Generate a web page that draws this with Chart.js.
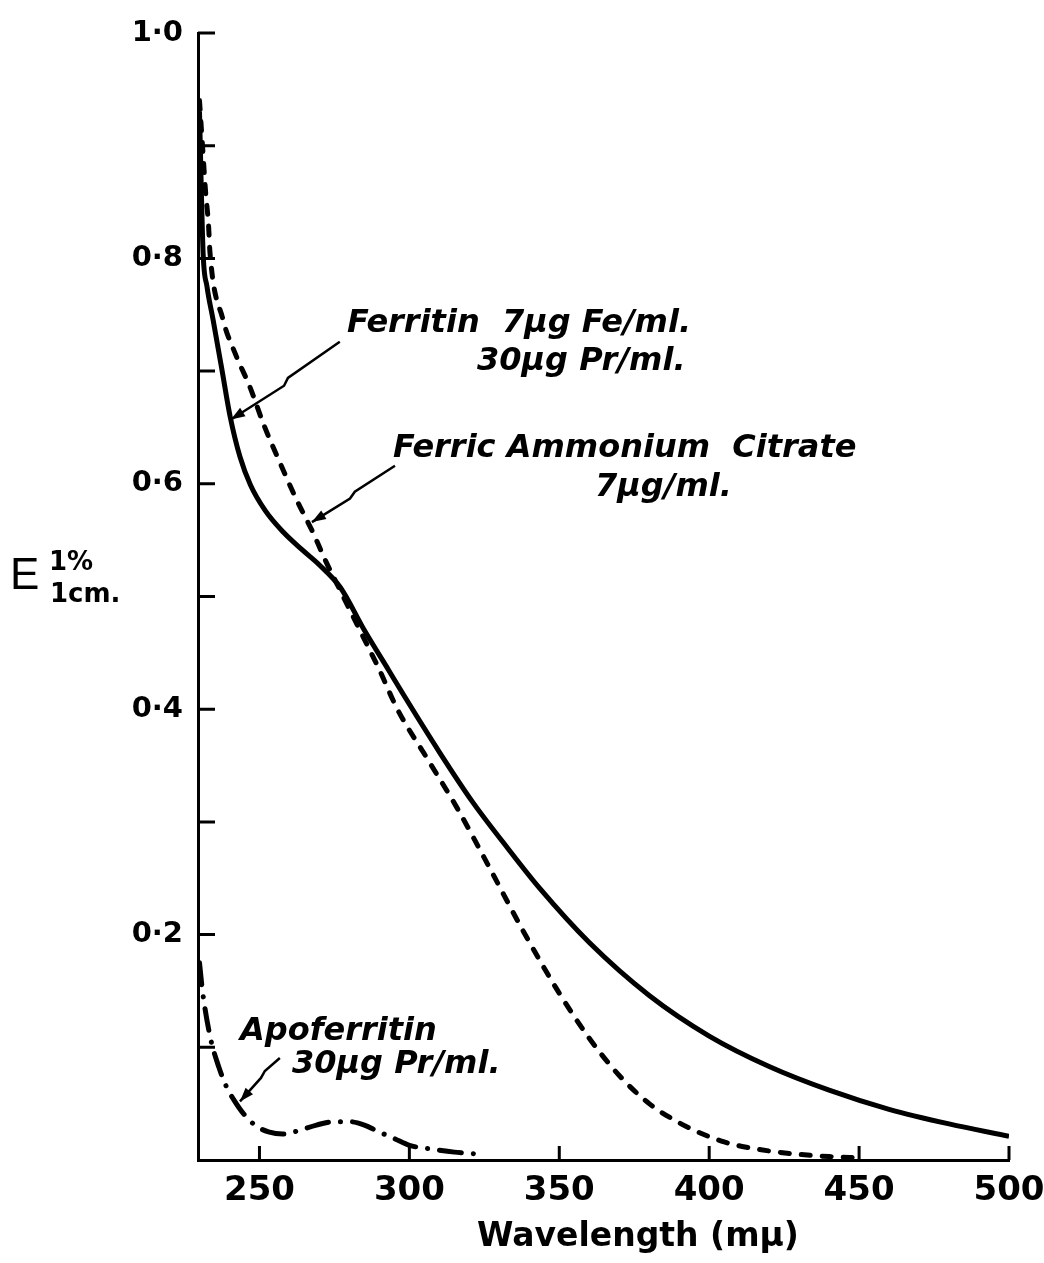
<!DOCTYPE html>
<html>
<head>
<meta charset="utf-8">
<script src="https://cdn.jsdelivr.net/npm/chart.js@4.4.1/dist/chart.umd.min.js"></script>
<style>
  html, body { margin: 0; padding: 0; background: #fff; }
</style>
</head>
<body>
<canvas id="spectrumGraph" width="1044" height="1263"></canvas>
<script>
const ferritinNm = [230, 231.2, 232.5, 234.5, 237.5, 240.2, 243.5, 247, 252, 258, 264, 270, 277, 285, 293, 298, 310, 321, 333, 343.5, 360, 380, 400, 420, 440, 460, 480, 500];
const ferritinE = [0.93, 0.805, 0.775, 0.746, 0.701, 0.660, 0.624, 0.599, 0.576, 0.557, 0.542, 0.528, 0.508, 0.470, 0.435, 0.413, 0.362, 0.318, 0.276, 0.241, 0.193, 0.146, 0.110, 0.083, 0.062, 0.045, 0.032, 0.021];

const citrateNm = [230, 231, 232, 233, 233.5, 237.8, 242, 246.8, 251.5, 256.8, 262, 267.8, 272, 277, 285, 290, 296, 306, 316, 327, 338, 350, 360, 370, 380, 390, 397, 405, 411, 420, 430, 440, 450];
const citrateE = [0.94, 0.90, 0.86, 0.83, 0.805, 0.746, 0.715, 0.686, 0.652, 0.619, 0.588, 0.557, 0.532, 0.505, 0.462, 0.435, 0.400, 0.356, 0.312, 0.258, 0.203, 0.148, 0.108, 0.075, 0.050, 0.033, 0.024, 0.016, 0.012, 0.008, 0.005, 0.003, 0.002];

const apoNm = [230, 231, 233.5, 236.5, 239, 241.3, 245, 249, 253, 257.8, 263, 269, 275, 280, 285, 289, 295, 300, 306.8, 315, 324.5];
const apoE = [0.175, 0.15, 0.11, 0.082, 0.065, 0.054, 0.040, 0.030, 0.025, 0.023, 0.026, 0.031, 0.034, 0.034, 0.031, 0.026, 0.019, 0.013, 0.010, 0.007, 0.005];

const wavelengthTicks = [250, 300, 350, 400, 450, 500];
const extinctionTicks = [0.1, 0.2, 0.3, 0.4, 0.5, 0.6, 0.7, 0.8, 0.9, 1.0];
const labelledTicks = [0.2, 0.4, 0.6, 0.8, 1.0];

const toPoints = (xs, ys) => xs.map((x, i) => ({ x: x, y: ys[i] }));

// leader lines, in (wavelength, E) pairs, last point gets the arrow head
const leaders = [
  [[276.8, 0.726], [259.5, 0.694], [258.2, 0.687], [240.5, 0.657]],
  [[295.2, 0.616], [281.8, 0.593], [280.2, 0.587], [267.5, 0.566]],
  [[256.8, 0.0905], [251.8, 0.079], [250.5, 0.0728], [243.5, 0.052]]
];

const notes = [
  { text: 'Ferritin  7µg Fe/ml.', x: 347, y: 332 },
  { text: '30µg Pr/ml.', x: 477, y: 370 },
  { text: 'Ferric Ammonium  Citrate', x: 393, y: 457 },
  { text: '7µg/ml.', x: 595, y: 496 },
  { text: 'Apoferritin', x: 240, y: 1040 },
  { text: '30µg Pr/ml.', x: 292, y: 1073 }
];

const inwardTicks = {
  id: 'inwardTicks',
  afterDatasetsDraw(chart) {
    const { ctx, scales: { x, y } } = chart;
    ctx.save();
    ctx.strokeStyle = '#000';
    ctx.lineWidth = 3;
    ctx.beginPath();
    extinctionTicks.forEach(v => {
      const py = y.getPixelForValue(v);
      ctx.moveTo(x.left, py);
      ctx.lineTo(x.left + 17, py);
    });
    wavelengthTicks.forEach(v => {
      const px = x.getPixelForValue(v);
      ctx.moveTo(px, y.bottom);
      ctx.lineTo(px, y.bottom - 14);
    });
    ctx.stroke();
    ctx.restore();
  }
};

const annotations = {
  id: 'annotations',
  afterDraw(chart) {
    const { ctx, scales: { x, y } } = chart;
    ctx.save();
    ctx.fillStyle = '#000';
    ctx.strokeStyle = '#000';

    ctx.lineWidth = 2.5;
    ctx.lineJoin = 'miter';
    leaders.forEach(path => {
      const pts = path.map(p => [x.getPixelForValue(p[0]), y.getPixelForValue(p[1])]);
      ctx.beginPath();
      pts.forEach((p, i) => i ? ctx.lineTo(p[0], p[1]) : ctx.moveTo(p[0], p[1]));
      ctx.stroke();
      const tip = pts[pts.length - 1];
      const prev = pts[pts.length - 2];
      const ang = Math.atan2(tip[1] - prev[1], tip[0] - prev[0]);
      ctx.beginPath();
      ctx.moveTo(tip[0], tip[1]);
      ctx.lineTo(tip[0] - 14 * Math.cos(ang) + 5 * Math.sin(ang), tip[1] - 14 * Math.sin(ang) - 5 * Math.cos(ang));
      ctx.lineTo(tip[0] - 14 * Math.cos(ang) - 5 * Math.sin(ang), tip[1] - 14 * Math.sin(ang) + 5 * Math.cos(ang));
      ctx.closePath();
      ctx.fill();
    });

    ctx.font = 'italic bold 32px "DejaVu Sans"';
    ctx.textAlign = 'left';
    ctx.textBaseline = 'alphabetic';
    notes.forEach(n => ctx.fillText(n.text, n.x, n.y));

    // y axis title E 1% / 1cm.
    ctx.font = '44px "Liberation Sans"';
    ctx.fillText('E', 10, 589);
    ctx.font = 'bold 26px "DejaVu Sans"';
    ctx.fillText('1%', 49, 570);
    ctx.fillText('1cm.', 50, 602);

    ctx.font = 'bold 33px "DejaVu Sans"';
    ctx.textAlign = 'center';
    ctx.textBaseline = 'middle';
    ctx.fillText('Wavelength (mµ)', 638, 1237);
    ctx.restore();
  }
};

const spectrumGraph = document.getElementById('spectrumGraph');

const spectrum = new Chart(spectrumGraph, {
  type: 'line',
  data: {
    datasets: [{
      label: 'Ferritin 7µg Fe/ml. 30µg Pr/ml.',
      data: toPoints(ferritinNm, ferritinE),
      borderColor: '#000',
      borderWidth: 5,
      pointRadius: 0,
      cubicInterpolationMode: 'monotone',
      fill: false
    }, {
      label: 'Ferric Ammonium Citrate 7µg/ml.',
      data: toPoints(citrateNm, citrateE),
      borderColor: '#000',
      borderWidth: 5,
      borderDash: [9, 12],
      borderCapStyle: 'round',
      pointRadius: 0,
      cubicInterpolationMode: 'monotone',
      fill: false
    }, {
      label: 'Apoferritin 30µg Pr/ml.',
      data: toPoints(apoNm, apoE),
      borderColor: '#000',
      borderWidth: 5,
      borderDash: [22, 12, 0.1, 12],
      borderCapStyle: 'round',
      pointRadius: 0,
      cubicInterpolationMode: 'monotone',
      fill: false
    }]
  },
  options: {
    responsive: false,
    animation: false,
    layout: {
      padding: { left: 0, right: 35, top: 33, bottom: 0 }
    },
    plugins: {
      legend: { display: false },
      tooltip: { enabled: false }
    },
    scales: {
      x: {
        type: 'linear',
        min: 229.5,
        max: 500,
        afterBuildTicks: scale => { scale.ticks = wavelengthTicks.map(v => ({ value: v })); },
        afterFit: scale => {
          scale.height = 103;
          scale.paddingLeft = 0;
          scale.paddingRight = 0;
        },
        grid: { drawOnChartArea: false, drawTicks: false },
        border: { color: '#000', width: 3 },
        ticks: {
          color: '#000',
          padding: 11,
          maxRotation: 0,
          autoSkip: false,
          font: { family: 'DejaVu Sans', weight: 'bold', size: 34 },
          callback: v => String(v)
        }
      },
      y: {
        type: 'linear',
        min: 0,
        max: 1,
        afterBuildTicks: scale => { scale.ticks = labelledTicks.map(v => ({ value: v })); },
        afterFit: scale => {
          scale.width = 198;
          scale.paddingTop = 0;
          scale.paddingBottom = 0;
        },
        grid: { drawOnChartArea: false, drawTicks: false },
        border: { color: '#000', width: 3 },
        ticks: {
          color: '#000',
          padding: 15,
          autoSkip: false,
          font: { family: 'DejaVu Sans', weight: 'bold', size: 29 },
          callback: v => v.toFixed(1).replace('.', '·')
        }
      }
    }
  },
  plugins: [inwardTicks, annotations]
});
</script>
</body>
</html>
